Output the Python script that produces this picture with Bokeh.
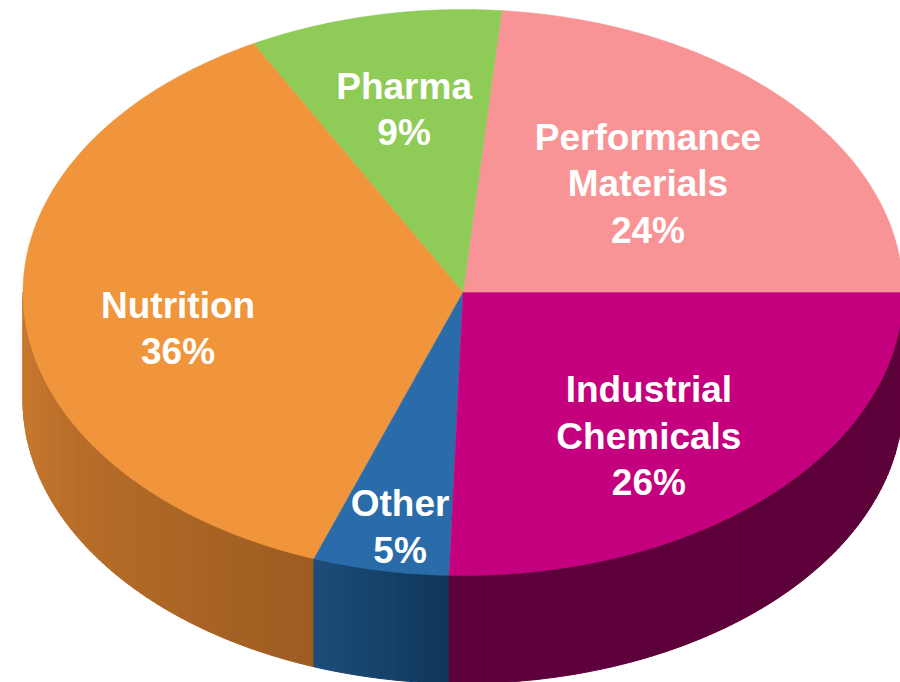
import numpy as np
from bokeh.plotting import figure
from bokeh.models import Range1d
from bokeh.core.properties import value
from bokeh.embed import file_html
from bokeh.resources import INLINE

categories = ["Performance Materials", "Pharma", "Nutrition", "Other", "Industrial Chemicals"]
label_lines = [["Performance", "Materials"], ["Pharma"], ["Nutrition"], ["Other"], ["Industrial", "Chemicals"]]
shares = [23.6, 9.3, 36.6, 5.0, 25.5]
pct_labels = ["24%", "9%", "36%", "5%", "26%"]

# ---- styles ----
top_colors = ["#F89495", "#8FCB57", "#F0953B", "#2A6CA9", "#C4007E"]
side_left = ["#C06A6A", "#6E9E40", "#CB7B2F", "#1D4D7A", "#5E003B"]
side_right = ["#C06A6A", "#6E9E40", "#9E5C21", "#10365A", "#5C0039"]
label_r = [0.57, 0.66, 0.66, 0.84, 0.66]
label_dt = [0.0, 0.0, 6.8, 1.0, -4.3]

CX, CY, A, B, DEPTH = 462.5, 292.0, 440.0, 283.0, 108.0
FONT_PX = 37
LINE_H = 46.5
W, H = 900, 682


def pt(t_deg, dy=0.0):
    t = np.radians(t_deg)
    return CX + A * np.cos(t), CY - B * np.sin(t) + dy


def mix(c1, c2, f):
    a = [int(c1[i:i + 2], 16) for i in (1, 3, 5)]
    b = [int(c2[i:i + 2], 16) for i in (1, 3, 5)]
    return "#%02x%02x%02x" % tuple(int(round(a[k] + (b[k] - a[k]) * f)) for k in range(3))


p = figure(width=W, height=H, output_backend="svg", toolbar_location=None,
           x_range=Range1d(0, W), y_range=Range1d(H, 0), min_border=0)
p.axis.visible = False
p.grid.visible = False
p.outline_line_color = None
p.background_fill_color = "white"
p.border_fill_color = "white"

total = float(sum(shares))
starts, ends = [], []
acc = 0.0
for s in shares:
    starts.append(acc / total * 360.0)
    acc += s
    ends.append(acc / total * 360.0)

# ---- sides (visible front half: 180..360 deg) ----
sx, sy, sc = [], [], []
for i in range(len(shares)):
    t1, t2 = max(starts[i], 180.0), min(ends[i], 360.0)
    if t2 <= t1:
        continue
    n = max(2, int((t2 - t1) / 1.0))
    ts = np.linspace(t1, t2, n + 1)
    for k in range(n):
        ta, tb = ts[k], ts[k + 1]
        xa, ya = pt(ta)
        xb, yb = pt(tb)
        f = (k + 0.5) / n
        col = mix(side_left[i], side_right[i], f)
        sx.append([xa, xb, xb, xa])
        sy.append([ya, yb, yb + DEPTH, ya + DEPTH])
        sc.append(col)
p.patches(sx, sy, fill_color=sc, line_color=sc, line_width=1)

# ---- top faces ----
tx, ty = [], []
for i in range(len(shares)):
    ts = np.linspace(starts[i], ends[i], 200)
    xs, ys = pt(ts)
    tx.append([CX] + list(xs))
    ty.append([CY] + list(ys))
p.patches(tx, ty, fill_color=top_colors, line_color=top_colors, line_width=0.5)

# ---- labels ----
lx, ly, lt = [], [], []
for i in range(len(shares)):
    mid = (starts[i] + ends[i]) / 2.0 + label_dt[i]
    t = np.radians(mid)
    x0 = CX + A * label_r[i] * np.cos(t)
    y0 = CY - B * label_r[i] * np.sin(t)
    lines = label_lines[i] + [pct_labels[i]]
    nl = len(lines)
    for j, s in enumerate(lines):
        lx.append(x0)
        ly.append(y0 + (j - (nl - 1) / 2.0) * LINE_H)
        lt.append(s)
p.text(lx, ly, text=lt, text_color="white", text_font=value("Liberation Sans"),
       text_font_style="bold", text_font_size="%dpx" % FONT_PX,
       text_align="center", text_baseline="middle")

open("out.html", "w").write(file_html(p, INLINE))
